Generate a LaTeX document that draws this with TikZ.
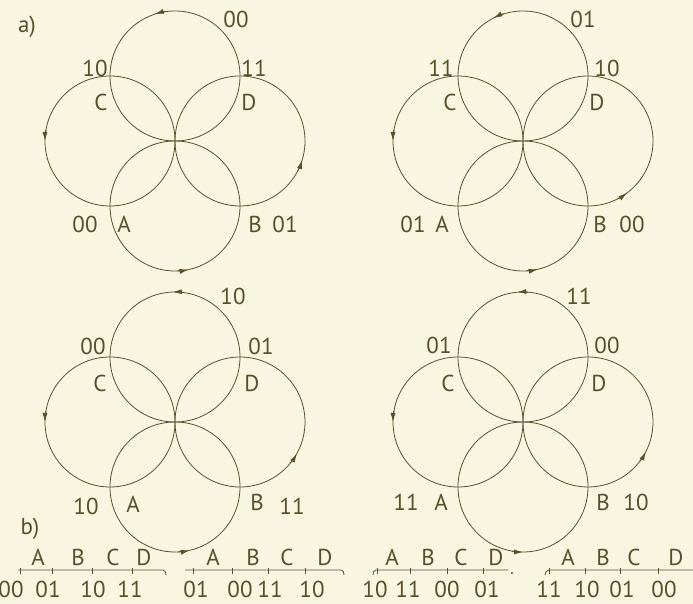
\documentclass[tikz,border=0pt]{standalone}
\usepackage{fontspec}
\setmainfont{PT Sans}
\usetikzlibrary{arrows.meta}
\definecolor{ink}{RGB}{88,80,44}
\definecolor{paper}{RGB}{248,246,224}
\tikzset{
  ring/.style={draw=ink, line width=0.8pt},
  flow/.style={draw=ink, line width=0.8pt, -{Latex[length=9pt,width=5pt]}},
  lbl/.style={text=ink, font=\fontsize{23}{23}\selectfont, inner sep=0pt},
}

\begin{document}
\begin{tikzpicture}[x=1pt,y=1pt]
    % Paper and frame of the picture
    \fill[paper] (0,0) rectangle (693,604);
    \useasboundingbox (0,0) rectangle (693,604);

    % Part labels
    \node[lbl] (parta) at (27,577) {a)};
    \node[lbl] (partb) at (30,75) {b)};

    % First pattern (top left)
    \draw[ring] (175,528) circle[radius=65pt];
    \draw[ring] (110,463) circle[radius=65pt];
    \draw[ring] (240,463) circle[radius=65pt];
    \draw[ring] (175,398) circle[radius=65pt];
    \draw[flow] (175,528) ++(98:65pt) arc[start angle=98, end angle=108, radius=65pt];
    \draw[flow] (110,463) ++(170:65pt) arc[start angle=170, end angle=180, radius=65pt];
    \draw[flow] (240,463) ++(-27:65pt) arc[start angle=-27, end angle=-17, radius=65pt];
    \draw[flow] (175,398) ++(-88:65pt) arc[start angle=-88, end angle=-78, radius=65pt];
    \node[lbl] (topa) at (236,585) {00};
    \node[lbl] (codca) at (95,536) {10};
    \node[lbl] (ca) at (101,502) {C};
    \node[lbl] (codda) at (254,536) {11};
    \node[lbl] (da) at (249,502) {D};
    \node[lbl] (codaa) at (85,380) {00};
    \node[lbl] (aa) at (124,380) {A};
    \node[lbl] (ba) at (255,380) {B};
    \node[lbl] (codba) at (285,380) {01};

    % Second pattern (top right)
    \draw[ring] (523,528) circle[radius=65pt];
    \draw[ring] (458,463) circle[radius=65pt];
    \draw[ring] (588,463) circle[radius=65pt];
    \draw[ring] (523,398) circle[radius=65pt];
    \draw[flow] (523,528) ++(107:65pt) arc[start angle=107, end angle=117, radius=65pt];
    \draw[flow] (458,463) ++(170:65pt) arc[start angle=170, end angle=180, radius=65pt];
    \draw[flow] (588,463) ++(-63:65pt) arc[start angle=-63, end angle=-53, radius=65pt];
    \draw[flow] (523,398) ++(-87:65pt) arc[start angle=-87, end angle=-77, radius=65pt];
    \node[lbl] (topb) at (583,585) {01};
    \node[lbl] (codcb) at (441,536) {11};
    \node[lbl] (cb) at (450,502) {C};
    \node[lbl] (coddb) at (607,536) {10};
    \node[lbl] (db) at (597,502) {D};
    \node[lbl] (codab) at (413,380) {01};
    \node[lbl] (ab) at (442,380) {A};
    \node[lbl] (bb) at (600,380) {B};
    \node[lbl] (codbb) at (632,380) {00};

    % Third pattern (bottom left)
    \draw[ring] (175,247) circle[radius=65pt];
    \draw[ring] (110,182) circle[radius=65pt];
    \draw[ring] (240,182) circle[radius=65pt];
    \draw[ring] (175,117) circle[radius=65pt];
    \draw[flow] (175,247) ++(82:65pt) arc[start angle=82, end angle=92, radius=65pt];
    \draw[flow] (110,182) ++(170:65pt) arc[start angle=170, end angle=180, radius=65pt];
    \draw[flow] (240,182) ++(-39:65pt) arc[start angle=-39, end angle=-29, radius=65pt];
    \draw[flow] (175,117) ++(-87:65pt) arc[start angle=-87, end angle=-77, radius=65pt];
    \node[lbl] (topc) at (233,308) {10};
    \node[lbl] (codcc) at (93,258) {00};
    \node[lbl] (cc) at (100,221) {C};
    \node[lbl] (coddc) at (261,258) {01};
    \node[lbl] (dc) at (252,221) {D};
    \node[lbl] (codac) at (86,98) {10};
    \node[lbl] (ac) at (133,100) {A};
    \node[lbl] (bc) at (257,102) {B};
    \node[lbl] (codbc) at (292,98) {11};

    % Fourth pattern (bottom right)
    \draw[ring] (523,247) circle[radius=65pt];
    \draw[ring] (458,182) circle[radius=65pt];
    \draw[ring] (588,182) circle[radius=65pt];
    \draw[ring] (523,117) circle[radius=65pt];
    \draw[flow] (523,247) ++(85:65pt) arc[start angle=85, end angle=95, radius=65pt];
    \draw[flow] (458,182) ++(170:65pt) arc[start angle=170, end angle=180, radius=65pt];
    \draw[flow] (588,182) ++(-37:65pt) arc[start angle=-37, end angle=-27, radius=65pt];
    \draw[flow] (523,117) ++(-100:65pt) arc[start angle=-100, end angle=-90, radius=65pt];
    \node[lbl] (topd) at (579,308) {11};
    \node[lbl] (codcd) at (439,259) {01};
    \node[lbl] (cd) at (448,221) {C};
    \node[lbl] (coddd) at (607,259) {00};
    \node[lbl] (dd) at (599,221) {D};
    \node[lbl] (codad) at (406,102) {11};
    \node[lbl] (ad) at (441,102) {A};
    \node[lbl] (bd) at (603,102) {B};
    \node[lbl] (codbd) at (636,102) {10};

    % b) first code
    \node[lbl] (qa) at (38,47) {A};
    \node[lbl] (qb) at (78,47) {B};
    \node[lbl] (qc) at (113,47) {C};
    \node[lbl] (qd) at (144,47) {D};
    \draw[ring] (18,34) -- (163,34) to[out=0, in=90] (166,29);
    \draw[ring] (20,36) -- (20,30) (52,36) -- (52,30) (92,36) -- (92,30) (132,36) -- (132,30);
    \node[lbl] (wa) at (11,15) {00};
    \node[lbl] (wb) at (48,15) {01};
    \node[lbl] (wc) at (93,15) {10};
    \node[lbl] (wd) at (130,15) {11};

    % b) second code
    \node[lbl] (ra) at (213,47) {A};
    \node[lbl] (rb) at (253,47) {B};
    \node[lbl] (rc) at (287,47) {C};
    \node[lbl] (rd) at (325,47) {D};
    \draw[ring] (185,34) -- (341,34) to[out=0, in=90] (344,29);
    \draw[ring] (193,36) -- (193,30) (232,36) -- (232,30) (268,36) -- (268,30) (305,36) -- (305,30);
    \node[lbl] (xa) at (196,15) {01};
    \node[lbl] (xb) at (240,15) {00};
    \node[lbl] (xc) at (270,15) {11};
    \node[lbl] (xd) at (312,15) {10};

    % b) third code
    \node[lbl] (sa) at (392,47) {A};
    \node[lbl] (sb) at (428,47) {B};
    \node[lbl] (sc) at (461,47) {C};
    \node[lbl] (sd) at (496,47) {D};
    \draw[ring] (373,29) to[out=90, in=180] (376,34) -- (508,34);
    \draw[ring] (377,36) -- (377,30) (410,36) -- (410,30) (447,36) -- (447,30) (483,36) -- (483,30);
    \fill[ink] (512,31) circle[radius=1.2pt];
    \node[lbl] (ya) at (375,15) {10};
    \node[lbl] (yb) at (408,15) {11};
    \node[lbl] (yc) at (447,15) {00};
    \node[lbl] (yd) at (487,15) {01};

    % b) fourth code
    \node[lbl] (ta) at (568,47) {A};
    \node[lbl] (tb) at (603,47) {B};
    \node[lbl] (tc) at (634,47) {C};
    \node[lbl] (td) at (676,47) {D};
    \draw[ring] (545,29) to[out=90, in=180] (549,34) -- (693,34);
    \draw[ring] (549,36) -- (549,30) (585,36) -- (585,30) (620,36) -- (620,30) (658,36) -- (658,30);
    \node[lbl] (za) at (549,15) {11};
    \node[lbl] (zb) at (587,15) {10};
    \node[lbl] (zc) at (622,15) {01};
    \node[lbl] (zd) at (664,15) {00};
\end{tikzpicture}
\end{document}
